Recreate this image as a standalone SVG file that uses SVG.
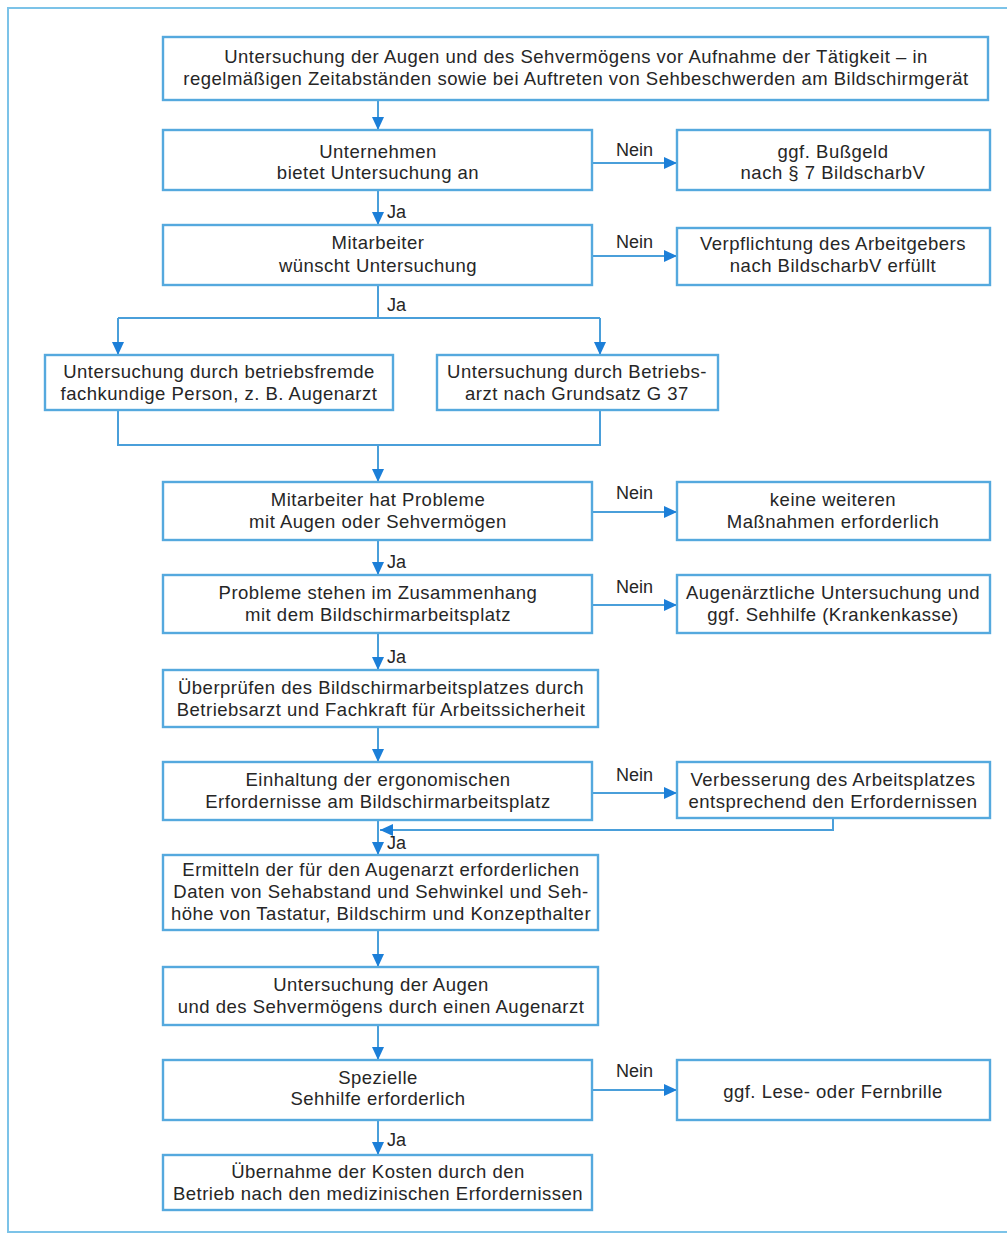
<svg xmlns="http://www.w3.org/2000/svg" width="1007" height="1239" viewBox="0 0 1007 1239">
<style>
.frame{fill:none;stroke:#7cc3e8;stroke-width:2}
.box{fill:#fff;stroke:#55a9de;stroke-width:2.4}
.t{font-family:"Liberation Sans",Arial,sans-serif;font-size:18.5px;letter-spacing:0.5px;fill:#262626;text-anchor:middle}
.lab{font-family:"Liberation Sans",Arial,sans-serif;font-size:18px;fill:#262626}
.c{fill:none;stroke:#4a9fda;stroke-width:2}
.ca{fill:none;stroke:#4a9fda;stroke-width:2;marker-end:url(#ah)}
</style>
<defs>
<marker id="ah" markerUnits="userSpaceOnUse" markerWidth="14" markerHeight="14" refX="13" refY="6" orient="auto">
<path d="M0,0 L13,6 L0,12 z" fill="#1c7fd8"/>
</marker>
</defs>
<rect width="1007" height="1239" fill="#fff"/>
<rect class="frame" x="8" y="8" width="1010" height="1224"/>

<g id="connectors">
<path class="ca" d="M378,100 V130"/>
<path class="ca" d="M378,190 V225"/>
<path class="ca" d="M592,163 H677"/>
<path class="ca" d="M592,256 H677"/>
<path class="c" d="M378,285 V318 M118,318 H600"/>
<path class="ca" d="M118,318 V355"/>
<path class="ca" d="M600,318 V355"/>
<path class="c" d="M118,410 V445 H600 V410"/>
<path class="ca" d="M378,445 V482"/>
<path class="ca" d="M592,512 H677"/>
<path class="ca" d="M378,540 V575"/>
<path class="ca" d="M592,605 H677"/>
<path class="ca" d="M378,633 V670"/>
<path class="ca" d="M378,727 V762"/>
<path class="ca" d="M592,793 H677"/>
<path class="ca" d="M833,818 V830 H380"/>
<path class="ca" d="M378,820 V855"/>
<path class="ca" d="M378,930 V967"/>
<path class="ca" d="M378,1025 V1060"/>
<path class="ca" d="M592,1090 H677"/>
<path class="ca" d="M378,1120 V1155"/>
<text class="lab" x="616" y="156">Nein</text>
<text class="lab" x="616" y="248">Nein</text>
<text class="lab" x="616" y="499">Nein</text>
<text class="lab" x="616" y="593">Nein</text>
<text class="lab" x="616" y="781">Nein</text>
<text class="lab" x="616" y="1077">Nein</text>
<text class="lab" x="387" y="218">Ja</text>
<text class="lab" x="387" y="311">Ja</text>
<text class="lab" x="387" y="568">Ja</text>
<text class="lab" x="387" y="663">Ja</text>
<text class="lab" x="387" y="849">Ja</text>
<text class="lab" x="387" y="1146">Ja</text>
</g>

<g id="n1"><rect class="box" x="163" y="37" width="825" height="63"/>
<text class="t" x="576" y="63">Untersuchung der Augen und des Sehvermögens vor Aufnahme der Tätigkeit – in</text>
<text class="t" x="576" y="85">regelmäßigen Zeitabständen sowie bei Auftreten von Sehbeschwerden am Bildschirmgerät</text></g>

<g id="n2"><rect class="box" x="163" y="130" width="429" height="60"/>
<text class="t" x="378" y="158">Unternehmen</text><text class="t" x="378" y="179">bietet Untersuchung an</text></g>

<g id="n3"><rect class="box" x="677" y="130" width="313" height="60"/>
<text class="t" x="833" y="158">ggf. Bußgeld</text><text class="t" x="833" y="179">nach § 7 BildscharbV</text></g>

<g id="n4"><rect class="box" x="163" y="225" width="429" height="60"/>
<text class="t" x="378" y="249">Mitarbeiter</text><text class="t" x="378" y="272">wünscht Untersuchung</text></g>

<g id="n5"><rect class="box" x="677" y="228" width="313" height="57"/>
<text class="t" x="833" y="250">Verpflichtung des Arbeitgebers</text><text class="t" x="833" y="272">nach BildscharbV erfüllt</text></g>

<g id="n6"><rect class="box" x="45" y="355" width="348" height="55"/>
<text class="t" x="219" y="378">Untersuchung durch betriebsfremde</text><text class="t" x="219" y="400">fachkundige Person, z. B. Augenarzt</text></g>

<g id="n7"><rect class="box" x="437" y="355" width="281" height="55"/>
<text class="t" x="577" y="378">Untersuchung durch Betriebs-</text><text class="t" x="577" y="400">arzt nach Grundsatz G 37</text></g>

<g id="n8"><rect class="box" x="163" y="482" width="429" height="58"/>
<text class="t" x="378" y="506">Mitarbeiter hat Probleme</text><text class="t" x="378" y="528">mit Augen oder Sehvermögen</text></g>

<g id="n9"><rect class="box" x="677" y="482" width="313" height="58"/>
<text class="t" x="833" y="506">keine weiteren</text><text class="t" x="833" y="528">Maßnahmen erforderlich</text></g>

<g id="n10"><rect class="box" x="163" y="575" width="429" height="58"/>
<text class="t" x="378" y="599">Probleme stehen im Zusammenhang</text><text class="t" x="378" y="621">mit dem Bildschirmarbeitsplatz</text></g>

<g id="n11"><rect class="box" x="677" y="575" width="313" height="58"/>
<text class="t" x="833" y="599">Augenärztliche Untersuchung und</text><text class="t" x="833" y="621">ggf. Sehhilfe (Krankenkasse)</text></g>

<g id="n12"><rect class="box" x="163" y="670" width="435" height="57"/>
<text class="t" x="381" y="694">Überprüfen des Bildschirmarbeitsplatzes durch</text><text class="t" x="381" y="716">Betriebsarzt und Fachkraft für Arbeitssicherheit</text></g>

<g id="n13"><rect class="box" x="163" y="762" width="429" height="58"/>
<text class="t" x="378" y="786">Einhaltung der ergonomischen</text><text class="t" x="378" y="808">Erfordernisse am Bildschirmarbeitsplatz</text></g>

<g id="n14"><rect class="box" x="677" y="762" width="313" height="56"/>
<text class="t" x="833" y="786">Verbesserung des Arbeitsplatzes</text><text class="t" x="833" y="808">entsprechend den Erfordernissen</text></g>

<g id="n15"><rect class="box" x="163" y="855" width="435" height="75"/>
<text class="t" x="381" y="876">Ermitteln der für den Augenarzt erforderlichen</text><text class="t" x="381" y="898">Daten von Sehabstand und Sehwinkel und Seh-</text><text class="t" x="381" y="920">höhe von Tastatur, Bildschirm und Konzepthalter</text></g>

<g id="n16"><rect class="box" x="163" y="967" width="435" height="58"/>
<text class="t" x="381" y="991">Untersuchung der Augen</text><text class="t" x="381" y="1013">und des Sehvermögens durch einen Augenarzt</text></g>

<g id="n17"><rect class="box" x="163" y="1060" width="429" height="60"/>
<text class="t" x="378" y="1084">Spezielle</text><text class="t" x="378" y="1105">Sehhilfe erforderlich</text></g>

<g id="n18"><rect class="box" x="677" y="1060" width="313" height="60"/>
<text class="t" x="833" y="1098">ggf. Lese- oder Fernbrille</text></g>

<g id="n19"><rect class="box" x="163" y="1155" width="429" height="55"/>
<text class="t" x="378" y="1178">Übernahme der Kosten durch den</text><text class="t" x="378" y="1200">Betrieb nach den medizinischen Erfordernissen</text></g>
</svg>
